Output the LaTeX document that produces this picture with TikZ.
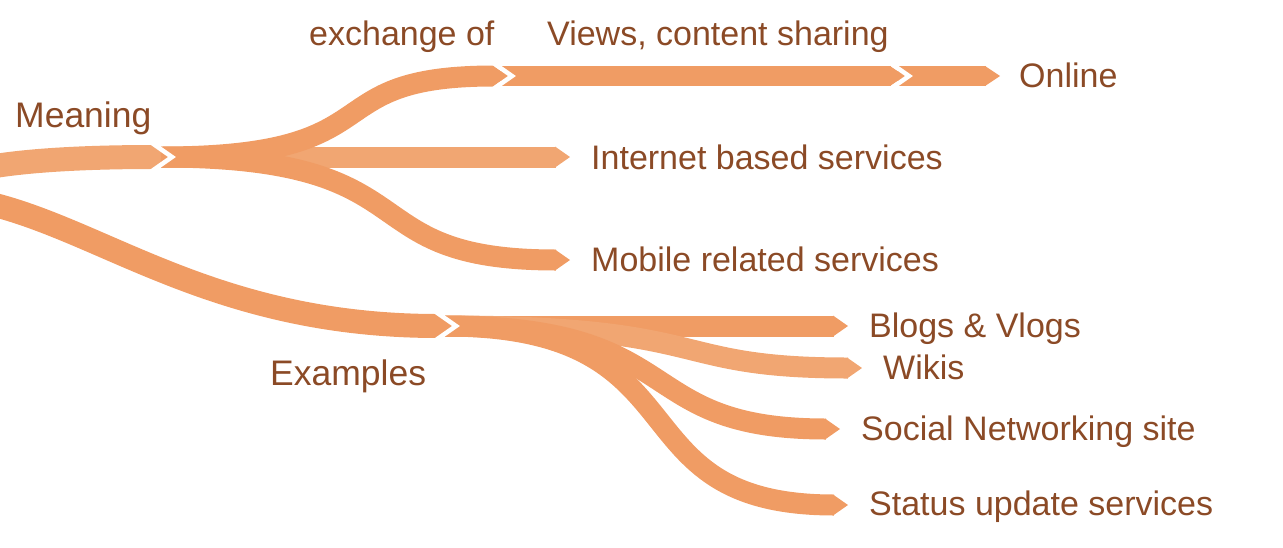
\documentclass[tikz,border=0pt]{standalone}
\usepackage{fontspec}
\setmainfont{Liberation Sans}
\definecolor{bandc}{RGB}{240,156,100}
\definecolor{bandl}{RGB}{241,166,114}
\definecolor{labelc}{RGB}{139,74,38}
% #1 colour, #2 tip, #3 half width of the band
\newcommand{\bandtip}[3]{\fill[#1] (#2) -- ++(-15,-#3) -- ++(0,2*#3) -- cycle;}
\newcommand{\bandnotch}[1]{\draw[notch] (#1) ++(-17,-14.7) -- ++(21,14.7) -- ++(-21,14.7);}
\begin{document}
\begin{tikzpicture}[x=1pt,y=-1pt,band/.style={line width=21pt},rootband/.style={line width=24pt},notch/.style={draw=white,line width=4.5pt,line join=miter},lbl/.style={anchor=base west,inner sep=0pt,text=labelc,font=\fontsize{34}{40}\selectfont},toplbl/.style={lbl,font=\fontsize{35.5}{42}\selectfont}]
\useasboundingbox (0,0) rectangle (1283,547);
% tips of the bands
\coordinate (meaning) at (168,157);
\coordinate (examples) at (452,326);
\coordinate (exchange) at (508,76);
\coordinate (views) at (905,76);
\coordinate (online) at (1000,76);
\coordinate (internet) at (570,157);
\coordinate (mobile) at (570,260);
\coordinate (blogs) at (848,326);
\coordinate (wikis) at (862,368);
\coordinate (social) at (840,429);
\coordinate (status) at (848,505);
% where the bands start
\coordinate (root1) at (-5,166);
\coordinate (root2) at (-5,205);
\coordinate (m0) at ([xshift=-7pt]meaning);
\coordinate (x0) at ([xshift=-7pt]exchange);
\coordinate (v0) at ([xshift=-7pt]views);
\coordinate (e0) at ([xshift=-7pt]examples);
% bands
\draw[rootband,bandl] (root1) .. controls (40,159) and (100,157) .. ([xshift=-14pt]meaning);
\bandtip{bandl}{meaning}{12}
\draw[rootband,bandc] (root2) .. controls (110,235) and (220,326) .. ([xshift=-14pt]examples);
\bandtip{bandc}{examples}{12}
\draw[band,bandl] (m0) -- ([xshift=-14pt]internet);
\bandtip{bandl}{internet}{10.5}
\draw[band,bandc] (m0) .. controls (401,157) and (309,76) .. ([xshift=-14pt]exchange);
\bandtip{bandc}{exchange}{10.5}
\draw[band,bandc] (m0) .. controls (439,157) and (344,260) .. ([xshift=-14pt]mobile);
\bandtip{bandc}{mobile}{10.5}
\draw[band,bandc,line width=20pt] (x0) -- ([xshift=-14pt]views);
\bandtip{bandc}{views}{10}
\draw[band,bandc,line width=20pt] (v0) -- ([xshift=-14pt]online);
\bandtip{bandc}{online}{10}
\draw[band,bandc] (e0) -- ([xshift=-14pt]blogs);
\bandtip{bandc}{blogs}{10.5}
\draw[band,bandl] (e0) .. controls (717,326) and (665,368) .. ([xshift=-14pt]wikis);
\bandtip{bandl}{wikis}{10.5}
\draw[band,bandc] (e0) .. controls (692,326) and (629,429) .. ([xshift=-14pt]social);
\bandtip{bandc}{social}{10.5}
\draw[band,bandc] (e0) .. controls (711,326) and (609,505) .. ([xshift=-14pt]status);
\bandtip{bandc}{status}{10.5}
% white cuts between bands
\bandnotch{meaning}
\bandnotch{exchange}
\bandnotch{views}
\bandnotch{examples}
% labels
\node[toplbl] (tmeaning) at (15,127) {Meaning};
\node[lbl] (texchange) at (309,45) {exchange of};
\node[lbl] (tviews) at (547,45) {Views, content sharing};
\node[lbl] (tonline) at (1019,87) {Online};
\node[lbl] (tinternet) at (591,169) {Internet based services};
\node[lbl] (tmobile) at (591,271) {Mobile related services};
\node[toplbl] (texamples) at (270,385) {Examples};
\node[lbl] (tblogs) at (869,337) {Blogs \& Vlogs};
\node[lbl] (twikis) at (883,379) {Wikis};
\node[lbl] (tsocial) at (861,440) {Social Networking site};
\node[lbl] (tstatus) at (869,515) {Status update services};
\end{tikzpicture}
\end{document}
